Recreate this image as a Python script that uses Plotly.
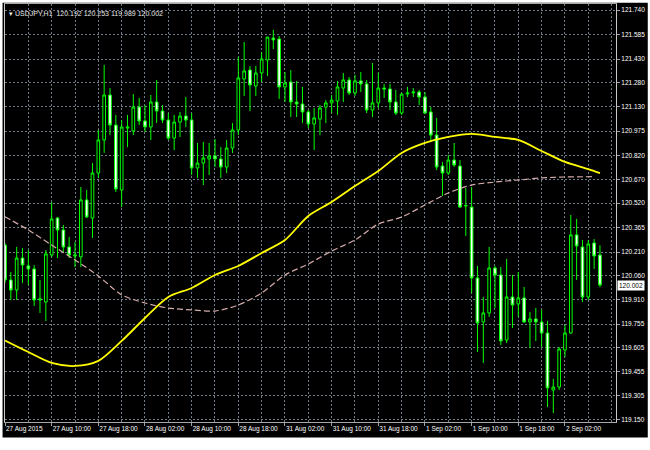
import plotly.graph_objects as go

# ---------------- data ----------------
bar_index = list(range(103))

opens = [120.255,120.034,119.971,120.173,120.123,120.104,119.908,119.895,120.192,120.426,
         120.350,120.243,120.186,120.180,120.540,120.426,120.710,120.919,121.203,121.013,
         120.603,120.994,120.976,121.127,121.039,121.001,121.159,121.102,121.045,120.931,
         121.032,121.070,121.045,120.742,120.773,120.799,120.818,120.799,120.748,120.868,
         120.982,121.304,121.361,121.260,121.342,121.424,121.563,121.557,121.254,121.285,
         121.159,121.146,121.096,121.020,121.051,121.127,121.153,121.165,121.247,121.298,
         121.216,121.292,121.273,121.108,121.153,121.247,121.241,121.159,121.089,121.209,
         121.216,121.222,121.190,121.096,120.950,120.754,120.710,120.792,120.754,120.502,
         120.495,120.047,119.769,119.826,120.110,120.066,119.655,119.927,119.883,119.921,
         119.769,119.788,119.769,119.699,119.339,119.358,119.592,119.699,120.319,120.243,
         119.927,120.268,120.192]

highs = [120.268,120.085,120.243,120.236,120.224,120.129,120.034,120.224,120.527,120.432,
         120.382,120.306,120.274,120.622,120.603,120.773,120.982,121.393,121.247,121.077,
         121.045,121.077,121.209,121.184,121.140,121.203,121.298,121.140,121.089,121.077,
         121.096,121.190,121.089,120.900,120.906,120.900,120.925,120.874,120.919,121.026,
         121.443,121.538,121.386,121.386,121.475,121.569,121.614,121.576,121.348,121.361,
         121.292,121.254,121.108,121.121,121.140,121.171,121.203,121.292,121.342,121.317,
         121.330,121.348,121.298,121.405,121.342,121.273,121.273,121.235,121.216,121.254,
         121.247,121.235,121.222,121.127,121.058,120.780,120.824,120.900,120.792,120.615,
         120.622,120.123,119.927,120.243,120.123,120.116,120.167,120.066,120.085,119.990,
         119.832,119.857,119.845,119.775,119.409,119.611,119.750,120.445,120.420,120.287,
         120.287,120.293,120.253]

lows = [120.015,119.908,119.908,120.015,120.003,119.870,119.826,119.775,120.180,120.173,
        120.211,120.173,120.116,120.116,120.426,120.300,120.679,120.837,120.950,120.590,
        120.495,120.874,120.950,121.013,120.969,120.919,121.026,121.026,120.919,120.855,
        120.938,121.001,120.698,120.679,120.634,120.698,120.748,120.679,120.710,120.837,
        120.950,121.197,121.102,121.197,121.285,121.323,121.494,121.178,121.159,121.064,
        121.064,121.026,120.994,120.855,120.950,121.026,121.089,121.077,121.159,121.203,
        121.197,121.222,121.089,121.064,121.121,121.184,121.108,121.077,121.077,121.190,
        121.190,121.140,121.083,120.906,120.729,120.565,120.698,120.748,120.489,120.312,
        119.952,119.579,119.510,119.801,119.857,119.624,119.636,119.731,119.801,119.763,
        119.605,119.649,119.611,119.232,119.194,119.339,119.548,119.695,120.034,119.895,
        119.908,120.104,119.989]

closes = [120.034,119.971,120.173,120.129,120.104,119.908,119.914,120.199,120.420,120.350,
          120.243,120.192,120.192,120.540,120.432,120.710,120.919,121.203,121.013,120.609,
          121.001,121.001,121.127,121.039,121.001,121.159,121.102,121.045,120.931,121.032,
          121.070,121.045,120.742,120.773,120.805,120.818,120.799,120.748,120.868,120.982,
          121.311,121.355,121.266,121.342,121.431,121.569,121.551,121.254,121.279,121.159,
          121.146,121.096,121.020,121.058,121.121,121.153,121.171,121.254,121.298,121.216,
          121.292,121.273,121.108,121.153,121.247,121.241,121.159,121.089,121.209,121.216,
          121.222,121.190,121.089,120.950,120.748,120.710,120.792,120.761,120.495,120.505,
          120.047,119.763,119.826,120.110,120.066,119.649,119.927,119.876,119.921,119.769,
          119.788,119.769,119.699,119.352,119.358,119.598,119.699,120.319,120.249,119.927,
          120.262,120.186,120.002]

ma_fast_idx = [0,4,8,12,16,20,24,28,32,36,40,44,48,52,56,60,64,68,72,76,80,84,88,92,96,100,102]
ma_fast = [119.652,119.579,119.510,119.491,119.523,119.649,119.794,119.927,119.984,120.066,
           120.123,120.205,120.287,120.439,120.527,120.628,120.723,120.837,120.900,120.938,
           120.957,120.938,120.919,120.849,120.780,120.735,120.710]

ma_slow_idx = [0,4,8,12,16,20,24,28,32,36,40,44,48,52,56,60,64,68,72,76,80,84,88,92,96,101]
ma_slow = [120.434,120.350,120.255,120.161,120.060,119.940,119.889,119.857,119.845,119.838,
           119.876,119.952,120.066,120.135,120.217,120.287,120.388,120.432,120.508,120.584,
           120.634,120.653,120.666,120.679,120.685,120.687]

time_tick_idx = [0,8,16,24,32,40,48,56,64,72,80,88,96]
time_tick_labels = ["27 Aug 2015","27 Aug 10:00","27 Aug 18:00","28 Aug 02:00","28 Aug 10:00",
                    "28 Aug 18:00","31 Aug 02:00","31 Aug 10:00","31 Aug 18:00","1 Sep 02:00",
                    "1 Sep 10:00","1 Sep 18:00","2 Sep 02:00"]
grid_minor_idx = [4,12,20,28,36,44,52,60,68,76,84,92,100,104]

price_ticks = [121.740,121.585,121.430,121.280,121.130,120.975,120.820,120.670,120.520,
               120.365,120.210,120.060,119.910,119.755,119.605,119.455,119.305,119.150]
price_tick_labels = ["%.3f" % v for v in price_ticks]

last_price = 120.002
header_text = "▾ USDJPY,H1  120.192 120.253 119.989 120.002"

# ---------------- figure ----------------
GRID = "#6f7a88"
FONT = "Liberation Sans"

fig = go.Figure()

fig.add_trace(go.Candlestick(
    x=bar_index, open=opens, high=highs, low=lows, close=closes,
    increasing=dict(fillcolor="#000000", line=dict(color="#00ff00", width=1)),
    decreasing=dict(fillcolor="#ffffff", line=dict(color="#00ff00", width=1)),
    whiskerwidth=0, showlegend=False, hoverinfo="skip",
))

fig.add_trace(go.Scatter(
    x=ma_slow_idx, y=ma_slow, mode="lines",
    line=dict(color="#d4aaaa", width=1.2, dash="6px,3px", shape="spline", smoothing=0.8),
    showlegend=False, hoverinfo="skip",
))
fig.add_trace(go.Scatter(
    x=ma_fast_idx, y=ma_fast, mode="lines",
    line=dict(color="#ffff00", width=1.8, shape="spline", smoothing=0.8),
    showlegend=False, hoverinfo="skip",
))

# current price line
fig.add_hline(y=last_price, line=dict(color="#7d8694", width=1.2), layer="below")

# black chart panel (with thin white frame around the page)
fig.add_shape(type="rect", xref="paper", yref="paper",
              x0=-0.004, x1=1.052, y0=-0.037, y1=1.003,
              fillcolor="#000000", line=dict(width=0), layer="below")

fig.add_annotation(xref="paper", yref="y", x=1.0, y=last_price, text="%.3f" % last_price,
                   showarrow=False, xanchor="left", yanchor="middle", xshift=1,
                   bgcolor="#ffffff", font=dict(color="#000000", size=6.5, family=FONT),
                   borderpad=1)

fig.add_annotation(xref="paper", yref="paper", x=0.004, y=0.978, text=header_text,
                   showarrow=False, xanchor="left", yanchor="middle",
                   font=dict(color="#e8e8e8", size=7, family=FONT))

fig.update_layout(
    width=650, height=450,
    margin=dict(l=5, r=34, t=4, b=28, autoexpand=False),
    paper_bgcolor="#ffffff", plot_bgcolor="#000000",
    boxgap=0.35,
    xaxis=dict(
        range=[0, 104.75], rangeslider=dict(visible=False),
        tickmode="array", tickvals=time_tick_idx, ticktext=time_tick_labels,
        ticklabelposition="outside right", tickangle=0, ticklabeloverflow="allow",
        ticks="outside", ticklen=3, tickcolor="#a0a0a0",
        tickfont=dict(color="#ffffff", size=6.5, family=FONT),
        showgrid=True, gridcolor=GRID, griddash="2px,2px", gridwidth=1,
        minor=dict(tickmode="array", tickvals=grid_minor_idx, showgrid=True,
                   gridcolor=GRID, griddash="2px,2px", ticks=""),
        showline=True, linecolor="#a8a8a8", linewidth=1, mirror=True,
        zeroline=False, fixedrange=True, automargin=False,
    ),
    yaxis=dict(
        range=[119.137, 121.778], side="right",
        tickmode="array", tickvals=price_ticks, ticktext=price_tick_labels,
        ticklabeloverflow="allow",
        ticks="outside", ticklen=3, tickcolor="#a0a0a0",
        tickfont=dict(color="#ffffff", size=6.5, family=FONT),
        showgrid=True, gridcolor=GRID, griddash="2px,2px", gridwidth=1,
        showline=True, linecolor="#c8c8c8", linewidth=1, mirror=True,
        zeroline=False, fixedrange=True, automargin=False,
    ),
)

fig.write_html("out.html", config={"displayModeBar": False},
               post_script="document.body.style.margin='0';document.body.style.padding='0';")
